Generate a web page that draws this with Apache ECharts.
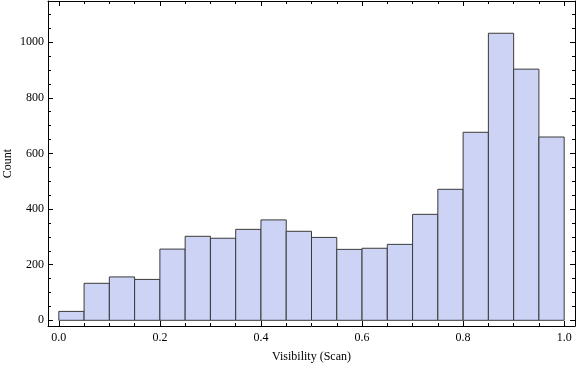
<!DOCTYPE html>
<html>
<head>
<meta charset="utf-8">
<title>Visibility histogram</title>
<style>
  html, body { margin: 0; padding: 0; background: #fff; }
  #chart { width: 576px; height: 366px; }
</style>
</head>
<body>
<div id="chart"></div>
<script src="https://cdn.jsdelivr.net/npm/echarts@6/dist/echarts.min.js"></script>
<script>
// histogram bins (width 0.05)
var binStarts = [0, 0.05, 0.1, 0.15, 0.2, 0.25, 0.3, 0.35, 0.4, 0.45,
                 0.5, 0.55, 0.6, 0.65, 0.7, 0.75, 0.8, 0.85, 0.9, 0.95];
var binWidth = 0.05;
var counts = [32, 133, 156, 147, 256, 302, 295, 327, 361, 320,
              298, 255, 259, 273, 381, 471, 676, 1032, 903, 659];

var xMajorTicks = [0, 0.2, 0.4, 0.6, 0.8, 1.0];
var xMinorTicks = [0, 0.05, 0.1, 0.15, 0.2, 0.25, 0.3, 0.35, 0.4, 0.45, 0.5,
                   0.55, 0.6, 0.65, 0.7, 0.75, 0.8, 0.85, 0.9, 0.95, 1.0];
var yMajorTicks = [0, 200, 400, 600, 800, 1000];
var yMinorTicks = [0, 50, 100, 150, 200, 250, 300, 350, 400, 450, 500, 550,
                   600, 650, 700, 750, 800, 850, 900, 950, 1000, 1050, 1100];

var xMin = -0.0214, xMax = 1.0214;
var yMin = -20.5, yMax = 1148;

var font = 'Liberation Serif, Times New Roman, serif';
var lineStyle = { color: '#000', width: 1 };

var histData = binStarts.map(function (s, i) {
  return [s, s + binWidth, counts[i]];
});

function xAxisCfg(grid, pos, ticks, len, labels, showLine) {
  return {
    type: 'value', gridIndex: grid, position: pos, min: xMin, max: xMax,
    axisLine: { show: showLine, onZero: false, lineStyle: lineStyle },
    splitLine: { show: false },
    axisTick: { show: true, inside: true, length: len, customValues: ticks, lineStyle: lineStyle },
    axisLabel: {
      show: labels, customValues: xMajorTicks, margin: 6,
      fontFamily: font, fontSize: 12, color: '#000',
      formatter: function (v) { return v.toFixed(1); }
    }
  };
}
function yAxisCfg(grid, pos, ticks, len, labels, showLine) {
  return {
    type: 'value', gridIndex: grid, position: pos, min: yMin, max: yMax,
    axisLine: { show: showLine, onZero: false, lineStyle: lineStyle },
    splitLine: { show: false },
    axisTick: { show: true, inside: true, length: len, customValues: ticks, lineStyle: lineStyle },
    axisLabel: {
      show: labels, customValues: yMajorTicks, margin: 4,
      fontFamily: font, fontSize: 12, color: '#000',
      formatter: function (v) { return String(Math.round(v)); }
    }
  };
}

var gridBox = { left: 48, right: 1, top: 1, bottom: 40, containLabel: false, outerBoundsMode: 'none' };

var xBottom = xAxisCfg(0, 'bottom', xMajorTicks, 5, true, true);
xBottom.name = 'Visibility (Scan)';
xBottom.nameLocation = 'middle';
xBottom.nameGap = 25;
xBottom.nameTextStyle = { fontFamily: font, fontSize: 12, color: '#000' };

var yLeft = yAxisCfg(0, 'left', yMajorTicks, 5, true, true);
yLeft.name = 'Count';
yLeft.nameLocation = 'middle';
yLeft.nameGap = 34;
yLeft.nameRotate = 90;
yLeft.nameMoveOverlap = false;
yLeft.nameTextStyle = { fontFamily: font, fontSize: 12, color: '#000' };

var option = {
  animation: false,
  backgroundColor: '#fff',
  grid: [gridBox, Object.assign({}, gridBox)],
  xAxis: [
    xBottom,
    xAxisCfg(0, 'top', xMajorTicks, 5, false, true),
    xAxisCfg(1, 'bottom', xMinorTicks, 3, false, false),
    xAxisCfg(1, 'top', xMinorTicks, 3, false, false)
  ],
  yAxis: [
    yLeft,
    yAxisCfg(0, 'right', yMajorTicks, 5, false, true),
    yAxisCfg(1, 'left', yMinorTicks, 3, false, false),
    yAxisCfg(1, 'right', yMinorTicks, 3, false, false)
  ],
  series: [{
    type: 'custom',
    xAxisIndex: 0,
    yAxisIndex: 0,
    data: histData,
    encode: { x: [0, 1], y: 2 },
    renderItem: function (params, api) {
      var p0 = api.coord([api.value(0), api.value(2)]);
      var p1 = api.coord([api.value(1), 0]);
      return {
        type: 'rect',
        shape: { x: p0[0], y: p0[1], width: p1[0] - p0[0], height: p1[1] - p0[1] },
        style: { fill: '#CCD3F5', stroke: '#3a3a3a', lineWidth: 1 }
      };
    }
  }]
};

var chart = echarts.init(document.getElementById('chart'));
chart.setOption(option);
</script>
</body>
</html>
